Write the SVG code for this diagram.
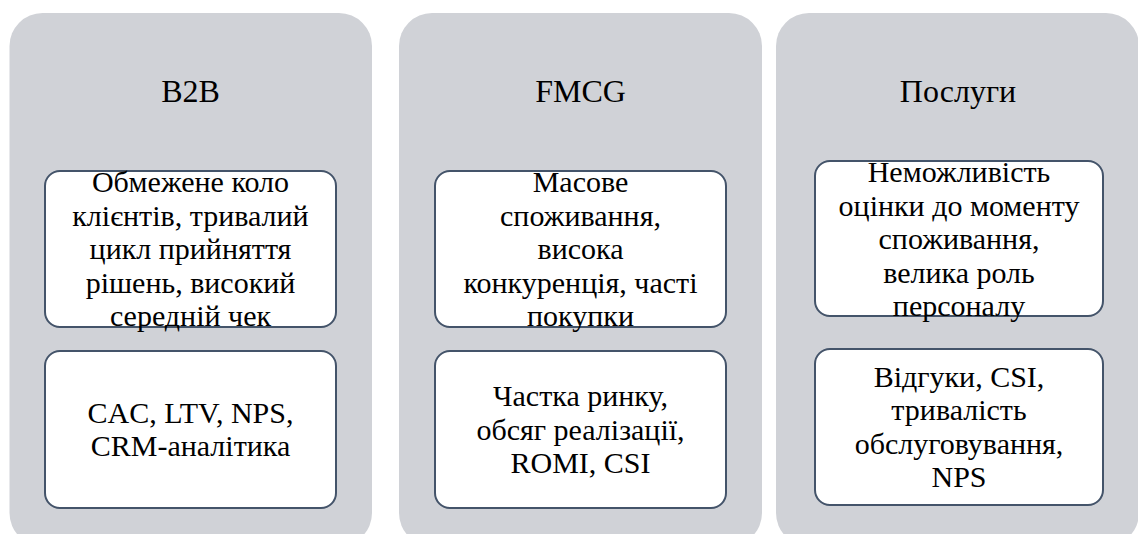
<svg xmlns="http://www.w3.org/2000/svg" width="1138" height="534" viewBox="0 0 1138 534" font-family="'Liberation Serif', 'Times New Roman', serif">
<style>
.panel{fill:#d0d2d7;}
.box{fill:#ffffff;stroke:#44546a;stroke-width:2;}
.h{font-family:'Liberation Serif','Times New Roman',serif;font-size:32px;fill:#000000;text-anchor:middle;}
.t{font-family:'Liberation Serif','Times New Roman',serif;font-size:30px;fill:#000000;text-anchor:middle;}
</style>
<rect width="1138" height="534" fill="#ffffff"/>
<g id="col-b2b">
<rect class="panel" x="9.5" y="13" width="362.5" height="533" rx="33"/>
<text class="h" x="190.5" y="102">B2B</text>
<g id="b2b-features">
<rect class="box" x="45" y="171" width="291" height="156" rx="15"/>
<text class="t" x="190.5" y="192"><tspan x="190.5">Обмежене коло</tspan><tspan x="190.5" dy="33.5">клієнтів, тривалий</tspan><tspan x="190.5" dy="33.5">цикл прийняття</tspan><tspan x="190.5" dy="33.5">рішень, високий</tspan><tspan x="190.5" dy="33.5">середній чек</tspan></text>
</g>
<g id="b2b-metrics">
<rect class="box" x="45" y="351" width="291" height="157" rx="15"/>
<text class="t" x="190.5" y="422.75"><tspan x="190.5">CAC, LTV, NPS,</tspan><tspan x="190.5" dy="33.5">CRM-аналітика</tspan></text>
</g>
</g>
<g id="col-fmcg">
<rect class="panel" x="399" y="13" width="363" height="533" rx="33"/>
<text class="h" x="580.5" y="102">FMCG</text>
<g id="fmcg-features">
<rect class="box" x="435" y="171" width="291" height="156" rx="15"/>
<text class="t" x="580.5" y="192"><tspan x="580.5">Масове</tspan><tspan x="580.5" dy="33.5">споживання,</tspan><tspan x="580.5" dy="33.5">висока</tspan><tspan x="580.5" dy="33.5">конкуренція, часті</tspan><tspan x="580.5" dy="33.5">покупки</tspan></text>
</g>
<g id="fmcg-metrics">
<rect class="box" x="435" y="351" width="291" height="157" rx="15"/>
<text class="t" x="580.5" y="406"><tspan x="580.5">Частка ринку,</tspan><tspan x="580.5" dy="33.5">обсяг реалізації,</tspan><tspan x="580.5" dy="33.5">ROMI, CSI</tspan></text>
</g>
</g>
<g id="col-services">
<rect class="panel" x="776" y="13" width="363" height="533" rx="33"/>
<text class="h" x="958" y="102">Послуги</text>
<g id="services-features">
<rect class="box" x="815" y="161" width="288" height="155" rx="15"/>
<text class="t" x="959" y="182"><tspan x="959">Неможливість</tspan><tspan x="959" dy="33.5">оцінки до моменту</tspan><tspan x="959" dy="33.5">споживання,</tspan><tspan x="959" dy="33.5">велика роль</tspan><tspan x="959" dy="33.5">персоналу</tspan></text>
</g>
<g id="services-metrics">
<rect class="box" x="815" y="349" width="288" height="156" rx="15"/>
<text class="t" x="959" y="386.75"><tspan x="959">Відгуки, CSI,</tspan><tspan x="959" dy="33.5">тривалість</tspan><tspan x="959" dy="33.5">обслуговування,</tspan><tspan x="959" dy="33.5">NPS</tspan></text>
</g>
</g>
<g id="connectors"></g>
</svg>
